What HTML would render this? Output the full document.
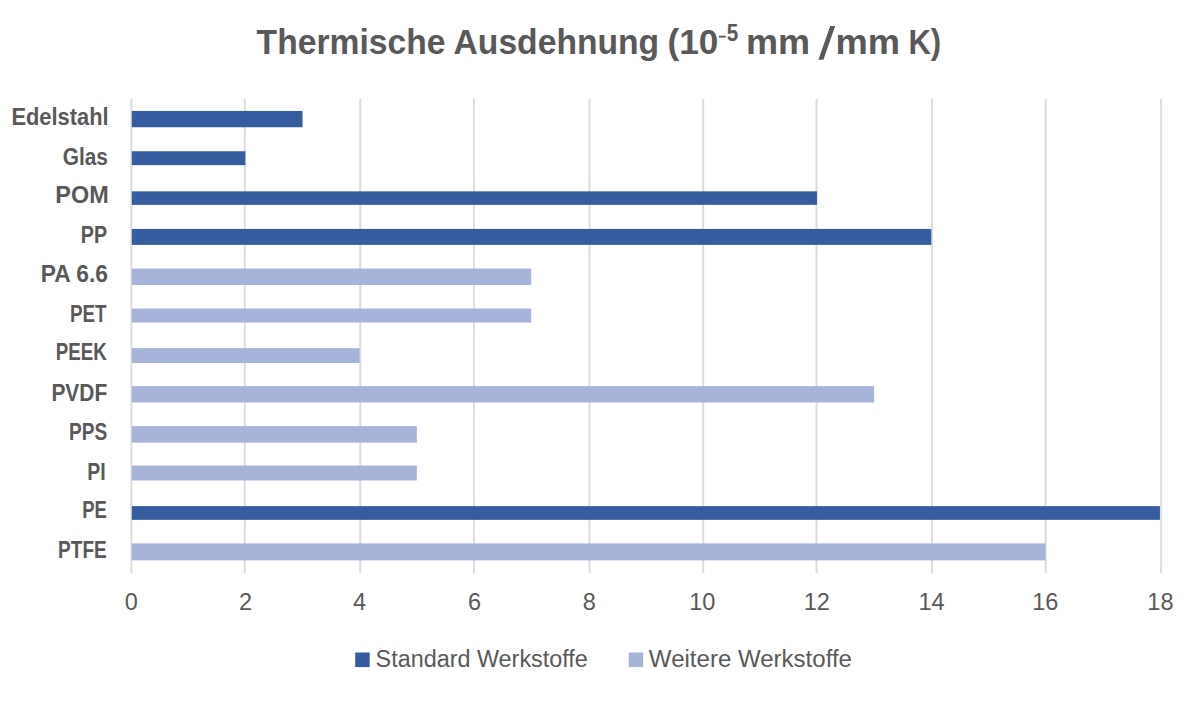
<!DOCTYPE html>
<html><head><meta charset="utf-8"><style>
html,body{margin:0;padding:0;background:#fff;}
body{width:1200px;height:701px;overflow:hidden;}
svg{display:block;}
text{font-family:"Liberation Sans",sans-serif;fill:#595959;white-space:pre;}
</style></head><body>
<svg width="1200" height="701" viewBox="0 0 1200 701">
<rect width="1200" height="701" fill="#fff"/>
<rect x="130.40" y="98.9" width="2" height="474.10" fill="#DCDCDC"/>
<rect x="243.80" y="98.9" width="2" height="474.10" fill="#DCDCDC"/>
<rect x="359.30" y="98.9" width="2" height="474.10" fill="#DCDCDC"/>
<rect x="472.90" y="98.9" width="2" height="474.10" fill="#DCDCDC"/>
<rect x="588.50" y="98.9" width="2" height="474.10" fill="#DCDCDC"/>
<rect x="702.20" y="98.9" width="2" height="474.10" fill="#DCDCDC"/>
<rect x="815.50" y="98.9" width="2" height="474.10" fill="#DCDCDC"/>
<rect x="931.10" y="98.9" width="2" height="474.10" fill="#DCDCDC"/>
<rect x="1044.60" y="98.9" width="2" height="474.10" fill="#DCDCDC"/>
<rect x="1160.10" y="98.9" width="2" height="474.10" fill="#DCDCDC"/>
<rect x="131.80" y="110.95" width="170.73" height="16.3" fill="#355C9F"/>
<rect x="131.80" y="151.25" width="113.57" height="13.9" fill="#355C9F"/>
<rect x="131.80" y="191.35" width="685.17" height="13.5" fill="#355C9F"/>
<rect x="131.80" y="228.93" width="799.49" height="15.95" fill="#355C9F"/>
<rect x="131.80" y="268.55" width="399.37" height="16.5" fill="#A6B4D9"/>
<rect x="131.80" y="308.55" width="399.37" height="14.0" fill="#A6B4D9"/>
<rect x="131.80" y="348.15" width="227.89" height="14.9" fill="#A6B4D9"/>
<rect x="131.80" y="386.15" width="742.33" height="16.3" fill="#A6B4D9"/>
<rect x="131.80" y="426.15" width="285.05" height="16.5" fill="#A6B4D9"/>
<rect x="131.80" y="465.55" width="285.05" height="14.9" fill="#A6B4D9"/>
<rect x="131.80" y="506.15" width="1028.13" height="13.7" fill="#355C9F"/>
<rect x="131.80" y="543.42" width="913.81" height="16.95" fill="#A6B4D9"/>
<rect x="355.2" y="652.5" width="14.5" height="14.6" fill="#355C9F"/>
<rect x="628.7" y="652.5" width="14.4" height="14.6" fill="#A6B4D9"/>
<rect x="718.8" y="35.7" width="6.9" height="1.9" fill="#595959"/>
<polygon points="830.2,25.9 835.2,25.9 823.4,59.7 818.4,59.7" fill="#595959"/>
<text x="256.62" y="53.80" font-size="35.10" font-weight="bold" textLength="402.52" lengthAdjust="spacingAndGlyphs">Thermische Ausdehnung</text>
<text x="667.55" y="53.80" font-size="35.10" font-weight="bold" textLength="50.79" lengthAdjust="spacingAndGlyphs">(10</text>
<text x="726.86" y="41.00" font-size="23.00" font-weight="bold" textLength="11.51" lengthAdjust="spacingAndGlyphs">5</text>
<text x="746.13" y="53.80" font-size="35.10" font-weight="bold" textLength="64.01" lengthAdjust="spacingAndGlyphs">mm</text>
<text x="835.51" y="53.80" font-size="35.10" font-weight="bold" textLength="64.55" lengthAdjust="spacingAndGlyphs">mm</text>
<text x="908.42" y="53.80" font-size="35.10" font-weight="bold" textLength="32.72" lengthAdjust="spacingAndGlyphs">K)</text>
<text x="11.44" y="125.45" font-size="23.00" font-weight="bold" textLength="97.21" lengthAdjust="spacingAndGlyphs">Edelstahl</text>
<text x="62.74" y="165.20" font-size="23.00" font-weight="bold" textLength="45.21" lengthAdjust="spacingAndGlyphs">Glas</text>
<text x="55.33" y="203.00" font-size="23.00" font-weight="bold" textLength="53.33" lengthAdjust="spacingAndGlyphs">POM</text>
<text x="80.78" y="242.90" font-size="23.00" font-weight="bold" textLength="26.24" lengthAdjust="spacingAndGlyphs">PP</text>
<text x="40.69" y="282.10" font-size="23.00" font-weight="bold" textLength="67.33" lengthAdjust="spacingAndGlyphs">PA 6.6</text>
<text x="70.05" y="322.10" font-size="23.00" font-weight="bold" textLength="36.46" lengthAdjust="spacingAndGlyphs">PET</text>
<text x="55.85" y="360.40" font-size="23.00" font-weight="bold" textLength="51.03" lengthAdjust="spacingAndGlyphs">PEEK</text>
<text x="51.40" y="400.50" font-size="23.00" font-weight="bold" textLength="55.76" lengthAdjust="spacingAndGlyphs">PVDF</text>
<text x="69.03" y="439.80" font-size="23.00" font-weight="bold" textLength="38.12" lengthAdjust="spacingAndGlyphs">PPS</text>
<text x="87.30" y="479.90" font-size="23.00" font-weight="bold" textLength="18.41" lengthAdjust="spacingAndGlyphs">PI</text>
<text x="82.16" y="517.90" font-size="23.00" font-weight="bold" textLength="24.66" lengthAdjust="spacingAndGlyphs">PE</text>
<text x="58.12" y="557.90" font-size="23.00" font-weight="bold" textLength="48.72" lengthAdjust="spacingAndGlyphs">PTFE</text>
<text x="124.72" y="610.30" font-size="23.50" font-weight="normal">0</text>
<text x="239.09" y="610.30" font-size="23.50" font-weight="normal">2</text>
<text x="353.04" y="610.30" font-size="23.50" font-weight="normal">4</text>
<text x="467.98" y="610.30" font-size="23.50" font-weight="normal">6</text>
<text x="582.67" y="610.30" font-size="23.50" font-weight="normal">8</text>
<text x="689.29" y="610.30" font-size="23.50" font-weight="normal">10</text>
<text x="803.80" y="610.30" font-size="23.50" font-weight="normal">12</text>
<text x="918.53" y="610.30" font-size="23.50" font-weight="normal">14</text>
<text x="1032.30" y="610.30" font-size="23.50" font-weight="normal">16</text>
<text x="1147.35" y="610.30" font-size="23.50" font-weight="normal">18</text>
<text x="375.64" y="666.70" font-size="23.00" font-weight="normal" textLength="212.20" lengthAdjust="spacingAndGlyphs">Standard Werkstoffe</text>
<text x="648.89" y="666.70" font-size="23.00" font-weight="normal" textLength="203.07" lengthAdjust="spacingAndGlyphs">Weitere Werkstoffe</text>
</svg>
</body></html>
